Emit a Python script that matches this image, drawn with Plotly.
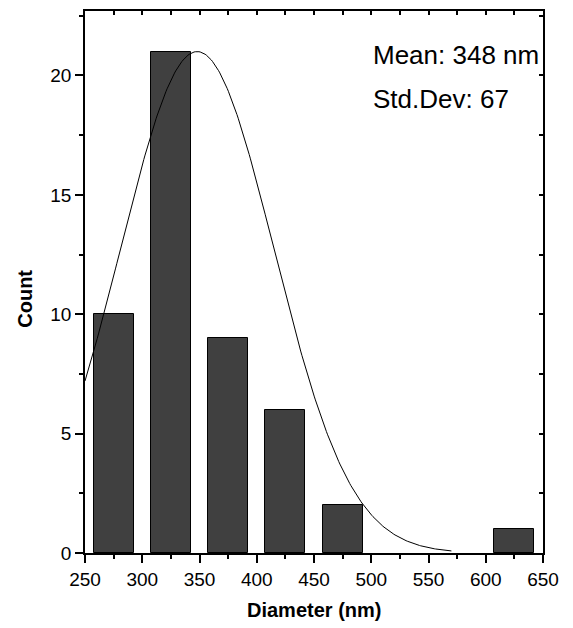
import numpy as np
import plotly.graph_objects as go

# Histogram data
bin_centers = [275, 325, 375, 425, 475, 625]
counts = [10, 21, 9, 6, 2, 1]
bar_width = 35

# Gaussian fit parameters (as printed on chart)
fit_mean = 348
fit_sd = 67
fit_amp = 21
fit_start = 250
fit_end = 570

x_ticks = [250, 300, 350, 400, 450, 500, 550, 600, 650]
y_ticks = [0, 5, 10, 15, 20]

fit_x = np.linspace(fit_start, fit_end, 300)
fit_y = fit_amp * np.exp(-((fit_x - fit_mean) ** 2) / (2 * fit_sd ** 2))

FONT = "Liberation Sans, Arial, sans-serif"

fig = go.Figure()
fig.add_trace(go.Bar(
    x=bin_centers, y=counts, width=bar_width,
    marker=dict(color="#404040", line=dict(color="black", width=1)),
    showlegend=False,
))
fig.add_trace(go.Scatter(
    x=fit_x, y=fit_y, mode="lines",
    line=dict(color="black", width=1), showlegend=False,
))
# dummy trace for mirrored axes
fig.add_trace(go.Scatter(x=[None], y=[None], xaxis="x2", yaxis="y2", showlegend=False))

xr = [250, 650]
yr = [0, 22.7]

fig.update_layout(
    width=565, height=620,
    margin=dict(l=77, r=30, t=3, b=75),
    paper_bgcolor="white", plot_bgcolor="white",
    font=dict(family=FONT, color="black", size=19),
    bargap=0,
    xaxis=dict(
        range=xr, tickvals=x_ticks, ticks="outside", ticklen=8, tickwidth=1.5,
        tickcolor="black", showline=True, linecolor="black", linewidth=1.5,
        showgrid=False, zeroline=False,
        tickfont=dict(size=19, family=FONT),
        minor=dict(dtick=25, tick0=250, ticks="outside", ticklen=4, tickwidth=1.5, tickcolor="black", showgrid=False),
    ),
    yaxis=dict(
        range=yr, tickvals=y_ticks, ticks="outside", ticklen=8, tickwidth=1.5,
        tickcolor="black", showline=True, linecolor="black", linewidth=1.5,
        showgrid=False, zeroline=False,
        tickfont=dict(size=19, family=FONT),
        minor=dict(dtick=2.5, tick0=0, ticks="outside", ticklen=4, tickwidth=1.5, tickcolor="black", showgrid=False),
    ),
    xaxis2=dict(
        range=xr, overlaying="x", side="top", anchor="y",
        tickvals=list(range(250, 651, 25)), ticks="inside", ticklen=4, tickwidth=1.5,
        tickcolor="black", showline=True, linecolor="black", linewidth=1.5,
        showticklabels=False, showgrid=False, zeroline=False,
    ),
    yaxis2=dict(
        range=yr, overlaying="y", side="right", anchor="x",
        tickvals=[v * 2.5 for v in range(0, 10)], ticks="inside", ticklen=4, tickwidth=1.5,
        tickcolor="black", showline=True, linecolor="black", linewidth=1.5,
        showticklabels=False, showgrid=False, zeroline=False,
    ),
    annotations=[
        dict(text="Mean: 348 nm", xref="paper", yref="paper", x=0.625, y=0.919,
             xanchor="left", yanchor="middle", showarrow=False,
             font=dict(size=26, family=FONT, color="black")),
        dict(text="Std.Dev: 67", xref="paper", yref="paper", x=0.625, y=0.838,
             xanchor="left", yanchor="middle", showarrow=False,
             font=dict(size=26, family=FONT, color="black")),
        dict(text="<b>Diameter (nm)</b>", xref="paper", yref="paper", x=0.5, y=-0.105,
             xanchor="center", yanchor="middle", showarrow=False,
             font=dict(size=20, family=FONT, color="black")),
        dict(text="<b>Count</b>", xref="paper", yref="paper", x=-0.13, y=0.47,
             xanchor="center", yanchor="middle", showarrow=False, textangle=-90,
             font=dict(size=20, family=FONT, color="black")),
    ],
)

fig.write_html("out.html")
